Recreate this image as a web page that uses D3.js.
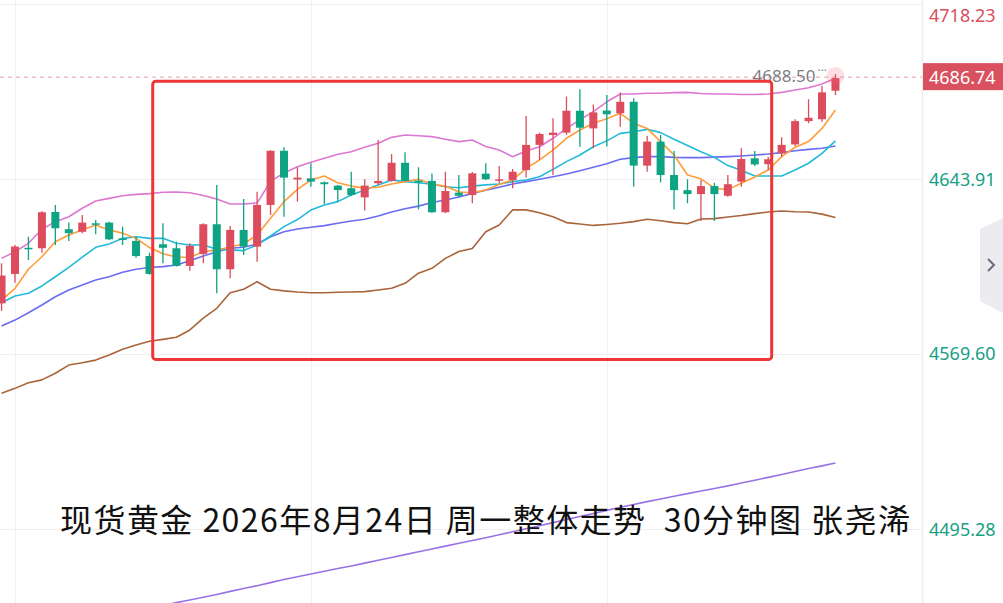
<!DOCTYPE html>
<html><head><meta charset="utf-8">
<script src="https://cdn.jsdelivr.net/npm/d3@7"></script>
<style>html,body{margin:0;padding:0;background:#fff;overflow:hidden}</style>
</head><body>
<svg id="c" width="1003" height="603"></svg>
<script>
// ---- data ----
const opens  = [4591.1,4603.6,4614.7,4614.5,4629.9,4622.6,4621.5,4625.1,4625.4,4618.7,4617.6,4611.2,4616.2,4614.5,4607.0,4612.1,4624.7,4605.6,4622.3,4615.2,4632.9,4655.9,4643.7,4644.2,4642.5,4641.1,4640.0,4636.1,4642.1,4643.1,4650.8,4643.2,4643.1,4629.8,4638.1,4637.1,4646.2,4643.2,4643.5,4647.7,4658.4,4662.6,4663.6,4672.9,4665.4,4673.0,4671.8,4676.7,4649.6,4659.8,4645.6,4639.2,4637.5,4640.9,4636.8,4642.8,4652.7,4650.2,4654.8,4658.6,4668.5,4669.3,4681.4];
const highs  = [4608.1,4615.9,4619.4,4630.2,4632.9,4625.4,4628.6,4626.5,4625.8,4623.7,4619.4,4612.6,4625.1,4617.3,4616.6,4625.1,4641.4,4624.0,4635.4,4638.5,4656.1,4657.4,4648.9,4650.6,4642.8,4641.4,4647.0,4643.8,4660.5,4654.5,4655.3,4648.9,4646.3,4647.0,4645.6,4646.9,4650.6,4649.4,4648.2,4670.7,4663.6,4669.7,4678.9,4682.0,4675.6,4679.6,4680.6,4678.2,4662.2,4662.6,4655.8,4643.8,4643.5,4642.3,4645.6,4657.0,4655.8,4653.4,4661.6,4669.3,4677.8,4683.4,4688.50];
const lows   = [4587.9,4599.9,4609.5,4612.6,4615.9,4617.6,4620.9,4620.4,4618.0,4615.9,4610.5,4603.3,4608.1,4606.7,4605.0,4608.1,4595.4,4601.8,4611.6,4608.8,4628.6,4627.9,4634.3,4640.6,4633.3,4634.3,4636.7,4630.5,4641.4,4642.8,4642.8,4631.0,4629.5,4629.4,4636.1,4633.6,4643.5,4642.2,4640.0,4644.5,4652.0,4645.6,4662.6,4657.6,4657.0,4657.7,4666.1,4640.6,4647.0,4642.5,4631.0,4633.6,4626.1,4626.1,4636.4,4640.6,4649.4,4647.7,4653.4,4657.9,4667.6,4668.2,4679.6];
const closes = [4602.9,4615.2,4614.1,4629.8,4623.0,4620.9,4625.4,4624.5,4618.3,4618.0,4611.2,4603.6,4614.7,4607.0,4615.5,4624.7,4605.6,4622.3,4615.2,4632.9,4655.9,4644.5,4644.5,4642.8,4641.7,4639.2,4637.1,4641.1,4643.1,4650.8,4643.1,4642.5,4629.8,4638.8,4636.8,4646.3,4643.8,4643.8,4647.0,4658.4,4663.0,4663.6,4672.9,4665.7,4672.2,4671.4,4676.7,4649.6,4659.8,4645.6,4639.2,4637.5,4640.9,4637.5,4641.7,4652.4,4650.1,4652.3,4658.4,4668.5,4669.9,4680.7,4686.74];

const ma5    = [4592.5,4597.5,4605.6,4610.9,4617.3,4620.1,4622.3,4624.4,4622.3,4620.9,4618.7,4614.8,4612.2,4610.8,4610.6,4613.0,4613.8,4615.0,4616.4,4620.1,4627.2,4634.3,4639.5,4643.5,4645.2,4642.3,4640.9,4640.0,4640.4,4641.8,4642.8,4643.8,4641.7,4640.9,4638.4,4638.1,4639.2,4641.6,4643.5,4648.4,4652.0,4656.2,4661.2,4664.7,4667.6,4669.5,4671.8,4667.6,4665.4,4659.8,4654.1,4645.6,4644.0,4640.0,4639.4,4642.1,4644.8,4647.7,4653.4,4657.4,4659.8,4665.4,4673.2];
const ma10   = [4591.4,4594.2,4595.4,4598.5,4602.4,4606.4,4610.7,4614.9,4616.3,4618.7,4619.4,4618.7,4618.7,4616.6,4615.9,4615.9,4614.1,4613.8,4613.5,4615.9,4619.7,4623.7,4626.7,4630.7,4632.9,4634.3,4637.1,4639.2,4641.4,4643.5,4642.8,4642.3,4641.7,4640.6,4640.2,4640.9,4641.4,4641.8,4642.8,4643.5,4644.9,4648.0,4651.3,4654.1,4657.6,4660.1,4663.3,4664.0,4665.0,4663.6,4660.8,4658.1,4655.5,4653.1,4649.6,4647.6,4645.2,4645.2,4645.2,4647.7,4650.6,4654.8,4660.1];
const bollMid= [4581.5,4584.0,4587.1,4590.4,4593.9,4596.8,4598.9,4601.0,4602.4,4604.3,4605.6,4606.3,4606.7,4607.4,4609.2,4611.2,4613.0,4614.5,4614.9,4616.3,4619.4,4621.5,4622.7,4623.4,4624.1,4625.1,4626.1,4626.8,4628.2,4629.9,4631.3,4632.4,4633.9,4635.0,4636.3,4637.8,4639.2,4640.4,4641.8,4642.8,4643.8,4644.9,4646.0,4647.4,4648.9,4650.4,4652.3,4653.0,4653.4,4653.4,4653.1,4653.0,4653.0,4653.2,4653.4,4653.7,4654.1,4654.5,4655.1,4655.9,4656.5,4657.0,4657.9];
const bollUp = [4610.2,4613.0,4616.6,4622.6,4625.8,4627.9,4631.5,4634.6,4635.7,4636.8,4637.4,4637.7,4638.3,4638.4,4638.1,4636.9,4635.4,4633.3,4633.3,4633.7,4642.9,4646.5,4649.1,4651.0,4652.7,4654.4,4655.5,4657.4,4659.1,4661.6,4662.6,4662.3,4661.9,4660.8,4659.8,4660.5,4657.7,4656.2,4653.4,4655.8,4657.6,4661.2,4665.4,4669.0,4672.5,4676.7,4680.0,4680.0,4680.3,4680.3,4680.6,4680.7,4680.2,4680.0,4680.0,4679.8,4679.8,4680.0,4680.7,4681.7,4682.7,4684.3,4686.7];
const bollLow= [4552.9,4555.0,4557.4,4558.6,4561.4,4564.9,4565.9,4567.0,4569.2,4571.6,4573.4,4575.0,4575.8,4576.7,4579.8,4584.8,4589.0,4595.6,4597.1,4600.3,4597.1,4596.4,4595.9,4595.6,4595.6,4595.8,4595.9,4596.1,4596.8,4597.5,4599.6,4603.9,4606.0,4610.2,4613.1,4614.4,4621.5,4624.4,4630.8,4630.8,4629.6,4627.9,4625.4,4624.8,4624.2,4624.6,4625.1,4625.8,4626.8,4626.2,4625.4,4624.9,4626.9,4627.1,4627.8,4628.4,4629.2,4629.9,4630.3,4630.0,4629.9,4629.0,4627.6];
// long moving average, visible from candle 12 onward
const maLongStart = 12;
const maLong = [4462.9,4464.0,4465.1,4466.3,4467.5,4468.8,4470.0,4471.2,4472.5,4473.8,4475.0,4476.2,4477.3,4478.5,4479.6,4480.8,4482.0,4483.2,4484.4,4485.6,4486.8,4488.0,4489.2,4490.4,4491.6,4492.8,4494.1,4495.4,4496.7,4498.0,4499.3,4500.6,4501.9,4503.2,4504.5,4505.7,4506.9,4508.0,4509.2,4510.3,4511.4,4512.5,4513.6,4514.8,4516.0,4517.2,4518.4,4519.7,4521.0,4522.1,4523.3];

const yTicks = [4718.23, 4643.91, 4569.60, 4495.28];
const lastPrice = 4686.74;
const highMark = {label: "4688.50", index: 62, price: 4688.50};
const gridEvery = 22, gridStart = 1;
const box = {i0: 11.24, i1: 57.26, p0: 4567.3, p1: 4685.4};
const titleText = "现货黄金 2026年8月24日 周一整体走势\u00a0\u00a030分钟图 张尧浠";

// ---- drawing ----
const W = 1003, H = 603, plotR = 922.5;
const svg = d3.select("#c");
const n = closes.length;
const x = d3.scaleLinear().domain([0, n - 1]).range([1.55, 1.55 + 13.45 * (n - 1)]);
const y = d3.scaleLinear().domain([4495.28, 4718.23]).range([529, 4]);

svg.append("rect").attr("width", W).attr("height", H).attr("fill", "#fff");
svg.append("defs").append("clipPath").attr("id", "plot")
  .append("rect").attr("x", 0).attr("y", 0).attr("width", plotR).attr("height", H);

const g = svg.append("g").attr("clip-path", "url(#plot)");

// grid
g.selectAll(".hg").data(yTicks).join("line")
  .attr("x1", 0).attr("x2", plotR).attr("y1", d => Math.round(y(d)) + 0.5).attr("y2", d => Math.round(y(d)) + 0.5)
  .attr("stroke", "#f0f0f4").attr("stroke-width", 1);
const vIdx = d3.range(gridStart, n, gridEvery);
g.selectAll(".vg").data(vIdx).join("line")
  .attr("x1", d => Math.round(x(d)) + 0.5).attr("x2", d => Math.round(x(d)) + 0.5).attr("y1", 0).attr("y2", H)
  .attr("stroke", "#f0f0f4").attr("stroke-width", 1);

// current price dashed line
g.append("line").attr("x1", 0).attr("x2", plotR).attr("y1", y(lastPrice) - 1).attr("y2", y(lastPrice) - 1)
  .attr("stroke", "#eaa3ad").attr("stroke-width", 1).attr("stroke-dasharray", "4,4");

// lines
const mkLine = (offset) => d3.line().x((d, i) => x(i + offset)).y(d => y(d)).curve(d3.curveLinear);
const lines = [
  {d: bollUp, c: "#dd78d2", o: 0},
  {d: bollLow, c: "#a9643a", o: 0},
  {d: bollMid, c: "#6a6cf2", o: 0},
  {d: ma10, c: "#22bad9", o: 0},
  {d: ma5, c: "#ff9d3b", o: 0},
  {d: maLong, c: "#9a72e6", o: maLongStart}
];
lines.forEach(L => {
  g.append("path").attr("d", mkLine(L.o)(L.d)).attr("fill", "none")
    .attr("stroke", L.c).attr("stroke-width", 1.6).attr("stroke-linejoin", "round");
});

// candles
const up = "#dc4c5c", down = "#0ea383";
const cg = g.append("g");
const candles = d3.range(n).map(i => ({i, o: opens[i], h: highs[i], l: lows[i], c: closes[i]}));
cg.selectAll(".w").data(candles).join("line")
  .attr("x1", d => x(d.i)).attr("x2", d => x(d.i))
  .attr("y1", d => y(d.h)).attr("y2", d => y(d.l))
  .attr("stroke", d => d.c >= d.o ? up : down).attr("stroke-width", 1.3);
cg.selectAll(".b").data(candles).join("rect")
  .attr("x", d => x(d.i) - 4).attr("width", 8)
  .attr("y", d => y(Math.max(d.o, d.c)))
  .attr("height", d => Math.max(1.5, Math.abs(y(d.o) - y(d.c))))
  .attr("fill", d => d.c >= d.o ? up : down);

// high marker
g.append("circle").attr("cx", x(highMark.index)).attr("cy", y(highMark.price) + 2).attr("r", 9)
  .attr("fill", "#f26a80").attr("opacity", 0.22);
g.append("text").attr("x", x(highMark.index) - 20).attr("y", y(highMark.price) + 7.5)
  .attr("text-anchor", "end").attr("font-family", "'Noto Sans', 'DejaVu Sans', sans-serif")
  .attr("font-size", 17).attr("fill", "#7d7d85").text(highMark.label);
g.append("text").attr("x", x(highMark.index) - 18).attr("y", y(highMark.price) + 1)
  .attr("font-family", "'Noto Sans', sans-serif").attr("font-size", 12).attr("fill", "#8d8d95").text("···");

// annotation box
g.append("rect")
  .attr("x", x(box.i0)).attr("y", y(box.p1))
  .attr("width", x(box.i1) - x(box.i0)).attr("height", y(box.p0) - y(box.p1))
  .attr("rx", 3).attr("fill", "none").attr("stroke", "#ee3636").attr("stroke-width", 3);

// axis separator
svg.append("line").attr("x1", plotR).attr("x2", plotR).attr("y1", 0).attr("y2", H)
  .attr("stroke", "#ececf1").attr("stroke-width", 1.5);

// axis labels
svg.selectAll(".yl").data(yTicks).join("text")
  .attr("x", 929).attr("y", d => Math.max(15, y(d)) + 6.5)
  .attr("font-family", "'Noto Sans', 'DejaVu Sans', sans-serif").attr("font-size", 18)
  .attr("fill", d => d > lastPrice ? "#d9505e" : "#16a085").text(d => d.toFixed(2));

// current price label
svg.append("rect").attr("x", 923).attr("y", y(lastPrice) - 15).attr("width", 80).attr("height", 27).attr("fill", "#d9505e");
svg.append("text").attr("x", 929).attr("y", y(lastPrice) + 5.5)
  .attr("font-family", "'Noto Sans', 'DejaVu Sans', sans-serif").attr("font-size", 18)
  .attr("fill", "#fff").text(lastPrice.toFixed(2));

// side button
svg.append("path").attr("d", "M980,229 L1003,218 L1003,313 L980,301 Z").attr("fill", "#ebebf0");
svg.append("path").attr("d", "M988,259 L994,265 L988,271").attr("fill", "none").attr("stroke", "#6b6b78").attr("stroke-width", 2);

// title
svg.append("text").attr("x", 60).attr("y", 532)
  .attr("textLength", 850).attr("lengthAdjust", "spacing")
  .attr("font-family", "'Noto Sans CJK SC', sans-serif").attr("font-size", 32)
  .attr("fill", "#111").text(titleText);
</script>
</body></html>
